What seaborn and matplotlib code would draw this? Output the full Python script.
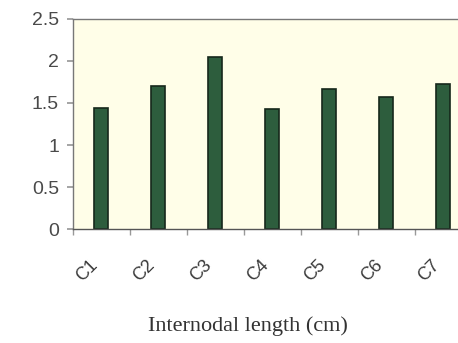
import matplotlib
matplotlib.use("Agg")
import matplotlib.pyplot as plt
import seaborn as sns
import pandas as pd
import numpy as np
from matplotlib.transforms import ScaledTranslation

categories = ["C1", "C2", "C3", "C4", "C5", "C6", "C7"]
values = [1.44, 1.70, 2.05, 1.43, 1.67, 1.57, 1.73]
yticks = [0, 0.5, 1, 1.5, 2, 2.5]
ytick_labels = ["0", "0.5", "1", "1.5", "2", "2.5"]

df = pd.DataFrame({"cat": categories, "val": values})

sns.set_theme(style="white")
plt.rcParams["font.family"] = ["Liberation Sans", "DejaVu Sans"]

fig = plt.figure(figsize=(4.58, 3.43), dpi=100)
fig.patch.set_facecolor("white")
ax = fig.add_axes([0.159, 0.332, 0.871, 0.613])
ax.set_facecolor("#fffee8")

sns.barplot(data=df, x="cat", y="val", ax=ax, color="#2d5d3d",
            edgecolor="#16281b", linewidth=1.2, width=0.25, saturation=1)

ax.set_xlim(-0.5, len(categories) - 0.5)
ax.set_ylim(0, 2.5)
ax.set_yticks(yticks)
ax.set_yticklabels(ytick_labels, fontsize=14, color="#4a4a4a")

ax.set_xticks(range(len(categories)))
ax.set_xticklabels(categories, rotation=45, ha="right", va="center",
                   rotation_mode="anchor", fontsize=13, color="#3a3a3a")
ax.tick_params(axis="x", which="major", length=0, pad=24)
offset = ScaledTranslation(-6 / 100, 0, fig.dpi_scale_trans)
for lbl in ax.get_xticklabels():
    lbl.set_transform(lbl.get_transform() + offset)
ax.set_xticks(np.arange(-0.5, len(categories), 1.0), minor=True)
ax.tick_params(axis="x", which="minor", length=4, color="#999999", direction="out", bottom=True)
ax.tick_params(axis="y", length=4, color="#999999", direction="out", left=True, pad=6)

for s in ["left", "top", "bottom"]:
    ax.spines[s].set_visible(True)
    ax.spines[s].set_color("#777777")
    ax.spines[s].set_linewidth(1.0)
ax.spines["bottom"].set_color("#555555")
ax.spines["right"].set_visible(False)

ax.set_ylabel("")
ax.set_xlabel("Internodal length (cm)", fontsize=16, color="#333333",
              family=["Liberation Serif", "DejaVu Serif"])
ax.xaxis.set_label_coords(0.44, -0.40)
ax.xaxis.label.set_verticalalignment("center")
ax.xaxis.set_label_coords((248 - 73) / (0.871 * 458), (229 - 326) / (0.613 * 343))

fig.savefig("out.png", dpi=100, facecolor="white")
